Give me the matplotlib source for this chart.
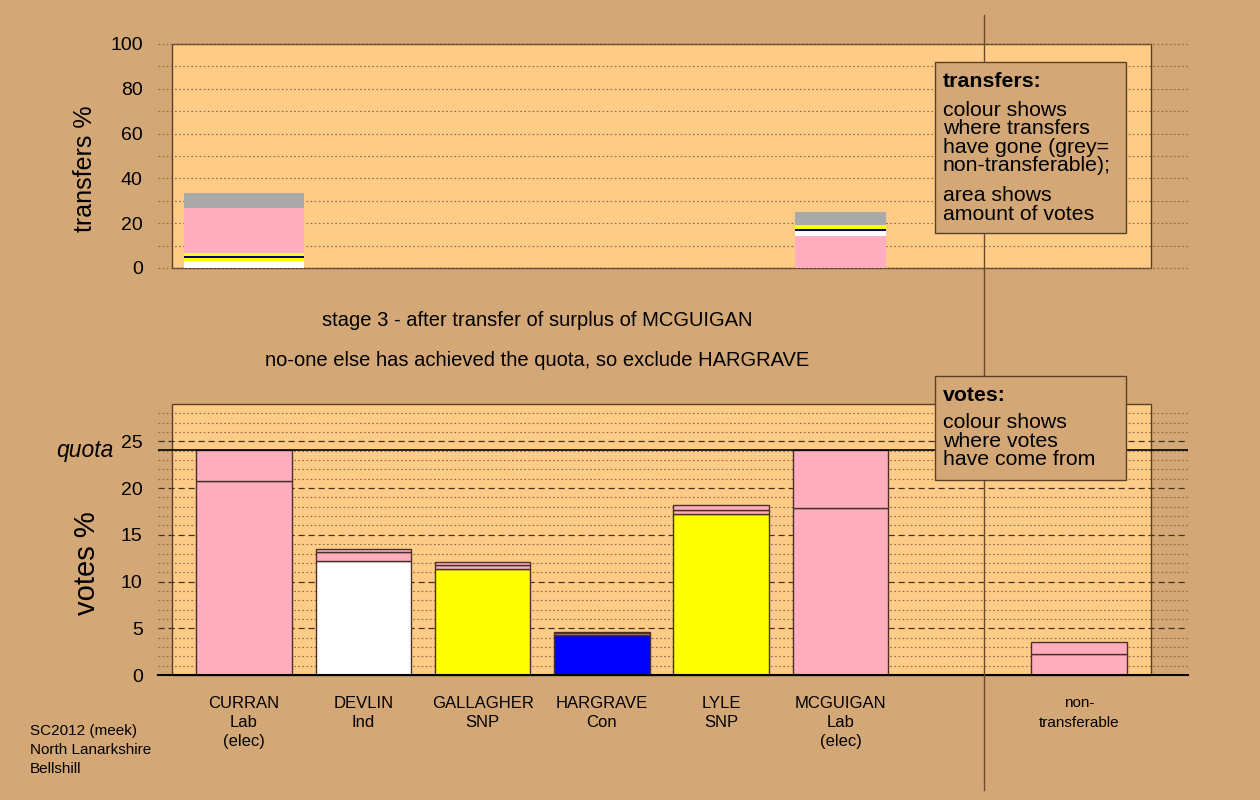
import matplotlib
matplotlib.use("Agg")
import matplotlib.pyplot as plt
from matplotlib.patches import Rectangle
from matplotlib.lines import Line2D

plt.rcParams['font.family'] = ['Liberation Sans', 'DejaVu Sans']

# colours
BG = "#D4A876"
FACE = "#FFCC88"
PINK = "#FFAEC0"
GREY = "#AAAAAA"
FRAME = "#5a4028"

# candidates / columns (slot 6 is left empty, non-transferable sits in slot 7)
labels = ["CURRAN\nLab\n(elec)", "DEVLIN\nInd", "GALLAGHER\nSNP", "HARGRAVE\nCon",
          "LYLE\nSNP", "MCGUIGAN\nLab\n(elec)", "non-\ntransferable"]
slots = [0, 1, 2, 3, 4, 5, 7]

# votes % at stage 3, stacked segments per column
vote_segments = [
    [20.75, 3.32],
    [12.19, 0.93, 0.38],
    [11.30, 0.50, 0.25],
    [4.25, 0.25, 0.15],
    [17.18, 0.50, 0.50],
    [17.86, 6.21],
    [2.21, 1.35],
]
vote_colours = [
    [PINK, PINK],
    ["white", PINK, PINK],
    ["yellow", PINK, PINK],
    ["blue", PINK, PINK],
    ["yellow", PINK, PINK],
    [PINK, PINK],
    [PINK, PINK],
]
quota = 24.07

# transfers % (where surpluses went), per transferring candidate
transfer_slots = [0, 5]
transfer_widths = [1.0, 0.755]
transfer_segments = [
    [3.1, 1.4, 0.9, 1.4, 20.1, 6.6],
    [14.3, 2.2, 0.15, 0.75, 1.8, 5.8],
]
transfer_colours = [
    ["white", "yellow", "#000080", "yellow", PINK, GREY],
    [PINK, "white", "yellow", "#000080", "yellow", GREY],
]

fig = plt.figure(figsize=(12.6, 8), dpi=100, facecolor=BG)

W, H = 1260, 800
left = 158 / W
width = 1030 / W
xlim = (-0.721, 7.913)

ax1 = fig.add_axes([left, (H - 268) / H, width, 224 / H])
ax2 = fig.add_axes([left, (H - 675) / H, width, 271 / H])

for ax in (ax1, ax2):
    ax.set_facecolor("none")
    for s in ax.spines.values():
        s.set_visible(False)
    ax.set_xlim(*xlim)
    ax.tick_params(axis="both", length=0, labelsize=14, pad=11)

# ---- top panel: transfers
ax1.set_ylim(0, 100)
ax1.add_patch(Rectangle((-0.6, 0), 8.2, 100, facecolor=FACE, edgecolor=FRAME,
                        lw=1.0, zorder=0, clip_on=False))
for y in range(0, 101, 10):
    ax1.axhline(y, color="#8a6a48", lw=0.8, ls=(0, (1.5, 2.2)), zorder=1, clip_on=False)
for x, w, segs, cols in zip(transfer_slots, transfer_widths, transfer_segments, transfer_colours):
    bottom = 0
    for v, c in zip(segs, cols):
        ax1.bar(x, v, width=w, bottom=bottom, color=c, lw=0, zorder=2)
        bottom += v
ax1.set_yticks(range(0, 101, 20))
ax1.set_xticks([])

# ---- lower panel: votes
ax2.set_ylim(0, 29)
ax2.add_patch(Rectangle((-0.6, 0), 8.2, 29, facecolor=FACE, edgecolor=FRAME,
                        lw=1.0, zorder=0, clip_on=False))
for y in range(1, 29):
    if y % 5 == 0:
        ax2.axhline(y, color="#4a3020", lw=0.9, ls=(0, (5, 3)), zorder=1)
    else:
        ax2.axhline(y, color="#8a6a48", lw=0.8, ls=(0, (1.5, 2.2)), zorder=1)
for x, segs, cols in zip(slots, vote_segments, vote_colours):
    bottom = 0
    for v, c in zip(segs, cols):
        ax2.bar(x, v, width=0.8, bottom=bottom, color=c, edgecolor="#4a3028",
                lw=1.0, zorder=2)
        bottom += v
ax2.axhline(0, color="black", lw=1.5, zorder=3, clip_on=False)
ax2.axhline(quota, color="black", lw=1.2, zorder=3)
ax2.text(-1.09, quota, "quota", style="italic", fontsize=16.5, ha="right",
         va="center", clip_on=False)
ax2.set_yticks(range(0, 26, 5))
ax2.set_xticks(slots)
ax2.set_xticklabels(labels, fontsize=12, linespacing=1.35)
ax2.tick_params(axis="x", pad=15)
last = ax2.get_xticklabels()[-1]
last.set_fontsize(11)
last.set_linespacing(1.6)

# axis titles
fig.text(85 / W, 1 - 169 / H, "transfers %", rotation=90, fontsize=18,
         ha="center", va="center")
fig.text(87 / W, 1 - 563 / H, "votes %", rotation=90, fontsize=21,
         ha="center", va="center")

# stage description
fig.text(537 / W, 1 - 321 / H, "stage 3 - after transfer of surplus of MCGUIGAN",
         fontsize=14.5, ha="center", va="center")
fig.text(537 / W, 1 - 361 / H, "no-one else has achieved the quota, so exclude HARGRAVE",
         fontsize=14.5, ha="center", va="center")

# separator between candidates and non-transferable
fig.add_artist(Line2D([984 / W, 984 / W], [1 - 15 / H, 1 - 790 / H], color="#6a4a2a",
                      lw=1.0, zorder=5))

# explanation boxes
def note_box(x0, y0, x1, y1, head, head_base, lines, bases):
    fig.add_artist(Rectangle((x0 / W, 1 - y1 / H), (x1 - x0) / W, (y1 - y0) / H,
                             facecolor=BG, edgecolor=FRAME, lw=1.0, zorder=10,
                             transform=fig.transFigure))
    fig.text(943 / W, 1 - head_base / H, head, fontsize=15.3, fontweight="bold",
             va="baseline", zorder=11)
    for s, b in zip(lines, bases):
        fig.text(943 / W, 1 - b / H, s, fontsize=15.3, va="baseline", zorder=11)

note_box(935, 62, 1126, 233, "transfers:", 87,
         ["colour shows", "where transfers", "have gone (grey=", "non-transferable);",
          "area shows", "amount of votes"],
         [116, 134.5, 153, 171, 201, 219.5])
note_box(935, 376, 1126, 480, "votes:", 401,
         ["colour shows", "where votes", "have come from"],
         [428.5, 447, 465])

# source note
fig.text(30 / W, 1 - 750 / H, "SC2012 (meek)\nNorth Lanarkshire\nBellshill",
         fontsize=11, ha="left", va="center", linespacing=1.45)

fig.savefig("out.png", dpi=100, facecolor=BG)
